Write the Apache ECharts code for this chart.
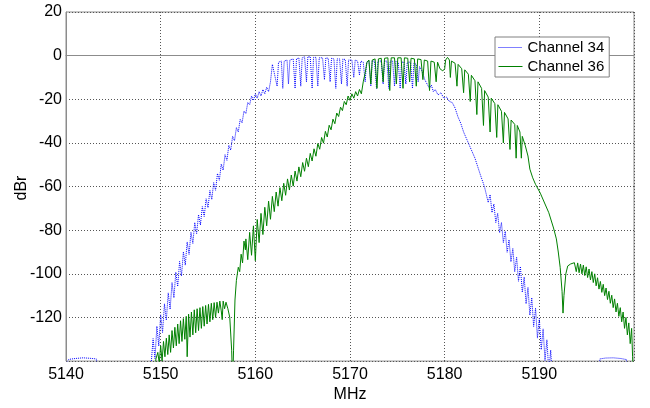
<!DOCTYPE html>
<html>
<head>
<meta charset="utf-8">
<script src="https://cdn.jsdelivr.net/npm/echarts@6/dist/echarts.min.js"></script>
<style>html,body{margin:0;padding:0;background:#fff}#c{width:650px;height:408px}</style>
</head>
<body>
<div id="c"></div>
<script>
// ---- tick labels ----
var xTicks = [5140, 5150, 5160, 5170, 5180, 5190];
var yTicks = [20, 0, -20, -40, -60, -80, -100, -120];
var seriesNames = ['Channel 34', 'Channel 36'];
var yAxisTitle = 'dBr';

// ---- Channel 34 (MHz, dBr) ----
var ch34FloorLeft = [[5140.0,-141],[5140.3,-139.2],[5141.0,-138.8],[5141.8,-138.5],[5142.5,-138.7],[5143.2,-139],[5143.7,-150],[5148.9,-150]];
var ch34Rise = [[5149.0,-141],[5149.2,-129.7],[5149.4,-138.9],[5149.6,-124],[5149.8,-133.1],[5150.0,-118.8],[5150.2,-126.9],[5150.4,-113.75],[5150.6,-121.25],[5150.8,-108.75],[5151.0,-116.25],[5151.2,-104],[5151.4,-111],[5151.6,-99.25],[5151.8,-105.75],[5152.0,-94.3],[5152.2,-101],[5152.4,-89.9],[5152.6,-96],[5152.8,-85.4],[5153.0,-91.1],[5153.2,-81],[5153.4,-86.1],[5153.6,-76.5],[5153.8,-81.6],[5154.0,-72.9],[5154.2,-77.6],[5154.4,-69.2],[5154.6,-73.7],[5154.8,-65.6],[5155.0,-69.7],[5155.2,-61.8],[5155.4,-65.9],[5155.6,-58.2],[5155.8,-61.7],[5156.0,-54],[5156.2,-57.1],[5156.4,-49.7],[5156.6,-52.5],[5156.8,-45.4],[5157.0,-48],[5157.2,-41.1],[5157.4,-43.3],[5157.6,-37],[5157.8,-39],[5158.0,-33],[5158.2,-35],[5158.4,-29.2],[5158.6,-30.8],[5158.8,-25.4],[5159.0,-26.6],[5159.2,-21.5],[5159.4,-22.5],[5159.6,-18.5]];
var ch34Shoulder = [[5159.8,-20.5],[5160.0,-17.5],[5160.2,-19.5],[5160.4,-16.5],[5160.6,-18.5],[5160.8,-15.5],[5161.0,-17.5],[5161.2,-14.5],[5161.4,-16.5],[5161.6,-12],[5161.8,-4]];
var ch34Top = [[5162.0,-3.5],[5162.3,-14],[5162.45,-3],[5162.75,-2.5],[5162.9,-15],[5163.05,-2.5],[5163.35,-2],[5163.5,-13],[5163.65,-2],[5164.0,-1.5],[5164.2,-15],[5164.35,-1.5],[5164.6,-1],[5164.8,-14],[5164.95,-1],[5165.2,-0.5],[5165.4,-12],[5165.55,-0.5],[5165.8,-0.5],[5166.0,-15],[5166.15,-0.8],[5166.4,-0.8],[5166.6,-14],[5166.75,-1],[5167.1,-1],[5167.3,-11],[5167.45,-1],[5167.7,-1.2],[5167.9,-12],[5168.05,-1.2],[5168.3,-1.5],[5168.5,-15],[5168.65,-1.5],[5168.9,-1.5],[5169.1,-13],[5169.25,-1.5],[5169.5,-1.8],[5169.7,-14],[5169.85,-2],[5170.2,-2],[5170.4,-10],[5170.55,-2],[5170.8,-2.5],[5171.0,-9],[5171.15,-2.5],[5171.4,-3],[5171.6,-12],[5171.75,-3],[5172.0,-2.5],[5172.2,-14],[5172.35,-2.5],[5172.6,-2.5],[5172.8,-15],[5172.95,-2.5],[5173.3,-2.5],[5173.5,-13],[5173.65,-2.5],[5173.9,-2.5],[5174.1,-15],[5174.25,-2.5],[5174.5,-2.5],[5174.7,-14],[5174.85,-2.5],[5175.1,-3],[5175.3,-15],[5175.45,-3],[5175.7,-3],[5175.9,-13],[5176.05,-3],[5176.4,-3],[5176.6,-15],[5176.75,-3.5],[5177.0,-4],[5177.2,-12],[5177.35,-5],[5177.6,-7]];
var ch34Fall = [[5177.9,-11],[5178.2,-13.5],[5178.4,-15],[5178.6,-13.5],[5178.8,-16.5],[5179.0,-15.5],[5179.3,-18],[5179.6,-17],[5179.9,-19.5],[5180.2,-19],[5180.5,-21],[5180.8,-21.5],[5181.1,-24],[5181.4,-28],[5181.7,-31],[5182.0,-35],[5182.3,-38],[5182.6,-41],[5182.9,-44],[5183.2,-47],[5183.5,-51],[5183.8,-55],[5184.2,-60],[5184.4,-59.4],[5184.6,-67.3],[5184.8,-63.7],[5185.0,-71.9],[5185.2,-68],[5185.4,-76.5],[5185.6,-72.3],[5185.8,-81.2],[5186.0,-76.5],[5186.2,-85.7],[5186.4,-80.5],[5186.6,-90.1],[5186.8,-84.4],[5187.0,-94.5],[5187.2,-88.4],[5187.4,-99],[5187.6,-92.4],[5187.8,-103.4],[5188.0,-96.65],[5188.2,-108.45],[5188.4,-101.45],[5188.6,-113.75],[5188.8,-106.25],[5189.0,-118.95],[5189.2,-110.95],[5189.4,-124.15],[5189.6,-115.75],[5189.8,-129.45],[5190.0,-120.45],[5190.2,-134.75],[5190.4,-125.25],[5190.6,-139.75],[5190.8,-130.25],[5191.0,-144.75],[5191.2,-135],[5191.4,-150]];
var ch34FloorRight = [[5196.2,-150],[5196.4,-139],[5197.0,-138.6],[5197.8,-138.5],[5198.6,-138.8],[5199.2,-139.3],[5199.4,-150]];

// ---- Channel 36 (MHz, dBr) ----
var ch36Hump = [[5149.3,-150],[5149.5,-139],[5149.7,-136],[5149.85,-141],[5150.0,-133],[5150.15,-140],[5150.3,-131],[5150.45,-138],[5150.6,-129.5],[5150.75,-137],[5150.9,-128],[5151.05,-136],[5151.2,-126],[5151.35,-134],[5151.5,-124.5],[5151.65,-133],[5151.8,-123],[5151.95,-132],[5152.1,-121.5],[5152.25,-131],[5152.4,-120.5],[5152.55,-130],[5152.7,-119.5],[5152.8,-138],[5152.95,-118.5],[5153.1,-129],[5153.25,-117.5],[5153.4,-128],[5153.55,-116.5],[5153.7,-127],[5153.85,-116],[5154.0,-126],[5154.15,-115.5],[5154.3,-125],[5154.45,-115],[5154.6,-124],[5154.75,-114.5],[5154.9,-123],[5155.05,-114],[5155.2,-122],[5155.35,-113.5],[5155.5,-121],[5155.65,-113.2],[5155.8,-120],[5155.95,-113],[5156.1,-118],[5156.25,-112.5],[5156.4,-117],[5156.5,-121],[5156.6,-112.5],[5156.75,-116],[5156.9,-113],[5157.1,-116],[5157.3,-120],[5157.5,-135],[5157.6,-150]];
var ch36Rise = [[5157.7,-135],[5157.85,-112],[5158.0,-103],[5158.2,-97],[5158.35,-99],[5158.5,-91],[5158.65,-95],[5158.8,-85],[5158.95,-89],[5159.0,-84],[5159.2,-93.5],[5159.4,-81],[5159.6,-91.5],[5159.8,-78],[5160.0,-94],[5160.2,-75.1],[5160.4,-85.7],[5160.6,-72.3],[5160.8,-82],[5161.0,-69.5],[5161.2,-78],[5161.4,-66.7],[5161.6,-75],[5161.8,-64.5],[5162.0,-71.5],[5162.2,-62.5],[5162.4,-69],[5162.6,-60.5],[5162.8,-66.5],[5163.0,-58.5],[5163.2,-64],[5163.4,-56.5],[5163.6,-61.6],[5163.8,-54.7],[5164.0,-59.8],[5164.2,-52.9],[5164.4,-57.5],[5164.6,-51],[5164.8,-55.5],[5165.0,-49],[5165.2,-53],[5165.4,-47],[5165.6,-50.9],[5165.8,-44.8],[5166.0,-48.3],[5166.2,-42.7],[5166.4,-46.1],[5166.6,-40.3],[5166.8,-42.9],[5167.0,-37.5],[5167.2,-40.1],[5167.4,-34.7],[5167.6,-37.3],[5167.8,-31.9],[5168.0,-34],[5168.2,-29.1],[5168.4,-31.2],[5168.6,-26.3],[5168.8,-27.9],[5169.0,-23.6],[5169.2,-25.2],[5169.4,-21],[5169.6,-22.5]];
var ch36Shoulder = [[5169.8,-18.5],[5170.0,-20.5],[5170.2,-17.5],[5170.4,-19.5],[5170.6,-16.5],[5170.8,-18.5],[5171.0,-15.5],[5171.2,-17.5],[5171.4,-12],[5171.6,-8],[5171.8,-3]];
var ch36Top = [[5172.0,-2],[5172.2,-13],[5172.35,-2],[5172.65,-1.5],[5172.85,-15],[5173.0,-1.5],[5173.3,-1.2],[5173.5,-12],[5173.65,-1.2],[5174.0,-1],[5174.2,-16],[5174.35,-1],[5174.7,-1],[5174.9,-13],[5175.05,-1],[5175.4,-1],[5175.6,-15],[5175.75,-1],[5176.1,-1.2],[5176.3,-12],[5176.45,-1.2],[5176.8,-1.5],[5177.0,-14],[5177.15,-1.5],[5177.5,-1.8],[5177.7,-11],[5177.85,-2],[5178.2,-2.5],[5178.4,-16],[5178.55,-2.5],[5178.9,-3],[5179.1,-12],[5179.25,-3],[5179.5,-6],[5179.8,-7],[5180.0,-6],[5180.1,-2],[5180.3,-0.8],[5180.5,-2]];
var ch36Comb = [[5180.6,-10],[5180.72,-2.5],[5181.1,-3.5],[5181.3,-14],[5181.42,-4],[5181.8,-6],[5182.0,-17],[5182.12,-6.5],[5182.5,-8.5],[5182.7,-21],[5182.82,-9],[5183.2,-11.5],[5183.4,-27],[5183.52,-12],[5183.9,-15],[5184.1,-32],[5184.22,-16],[5184.6,-19],[5184.8,-35],[5184.92,-19.5],[5185.3,-22],[5185.5,-37.5],[5185.62,-22.5],[5186.0,-25.5],[5186.2,-40],[5186.32,-26],[5186.7,-29],[5186.9,-43],[5187.02,-29.5],[5187.4,-31.5],[5187.55,-47],[5187.67,-32],[5187.95,-35],[5188.1,-47],[5188.2,-37],[5188.5,-41]];
var ch36Tail = [[5188.8,-46],[5189.0,-52],[5189.3,-56],[5189.6,-59],[5190.1,-63],[5190.6,-68],[5191.0,-72],[5191.5,-79],[5191.8,-84],[5192.0,-90],[5192.2,-97],[5192.4,-108],[5192.5,-118],[5192.6,-110],[5192.8,-100],[5193.0,-96.4],[5193.3,-95.5],[5193.7,-94.9],[5193.9,-99],[5194.05,-95],[5194.2,-99.5],[5194.35,-95.5],[5194.5,-100],[5194.65,-96],[5194.8,-100.8],[5194.95,-96.8],[5195.1,-101.7],[5195.25,-97.8],[5195.4,-102.8],[5195.55,-99],[5195.7,-104],[5195.85,-100],[5196.0,-105.5],[5196.15,-101.8],[5196.3,-107],[5196.45,-103.5],[5196.6,-108.5],[5196.75,-104.8],[5196.9,-110],[5197.05,-106.5],[5197.2,-111.8],[5197.35,-108],[5197.5,-113.5],[5197.65,-109.8],[5197.8,-115.5],[5197.95,-111.5],[5198.1,-117.5],[5198.25,-113.5],[5198.4,-119.5],[5198.55,-115.5],[5198.7,-122],[5198.85,-117.5],[5199.0,-125],[5199.15,-120],[5199.3,-128],[5199.45,-122.5],[5199.6,-132],[5199.75,-125],[5199.85,-138],[5199.95,-150]];

var ch34 = [].concat(ch34FloorLeft, ch34Rise, ch34Shoulder, ch34Top, ch34Fall, ch34FloorRight);
var ch36 = [].concat(ch36Hump, ch36Rise, ch36Shoulder, ch36Top, ch36Comb, ch36Tail);

var BLUE = '#0000ff', GREEN = '#008000';
var FONT = '"Liberation Sans", Arial, sans-serif';
var chart = echarts.init(document.getElementById('c'), null, {renderer: 'canvas'});
chart.setOption({
  animation: false,
  backgroundColor: '#fff',
  grid: {left: 66, right: 16, top: 12, bottom: 44, show: true, borderColor: '#8c8c8c', borderWidth: 1, backgroundColor: '#fff'},
  graphic: [{
    type: 'text', x: 22, y: 188, rotation: Math.PI / 2, silent: true,
    style: {text: yAxisTitle, fill: '#000', font: '16px "Liberation Sans", Arial, sans-serif',
            align: 'center', verticalAlign: 'middle'}
  }],
  legend: {
    data: [
      {name: seriesNames[0], lineStyle: {color: BLUE, width: 1, type: [1, 1], opacity: 1}},
      {name: seriesNames[1], lineStyle: {color: GREEN, width: 1, type: 'solid', opacity: 1}}
    ],
    orient: 'vertical', left: 495, top: 37,
    backgroundColor: '#fff', borderColor: '#808080', borderWidth: 1,
    padding: [3, 5, 3, 3], itemGap: 4, itemWidth: 24, itemHeight: 14,
    itemStyle: {color: 'rgba(0,0,0,0)', borderColor: 'rgba(0,0,0,0)', borderWidth: 0},
    textStyle: {fontFamily: FONT, fontSize: 15, color: '#000'}
  },
  xAxis: {
    type: 'value', min: 5140, max: 5200, interval: 10,
    name: 'MHz', nameLocation: 'middle', nameGap: 24,
    nameTextStyle: {fontFamily: FONT, fontSize: 16, color: '#000'},
    axisLine: {show: true, lineStyle: {color: '#8c8c8c'}},
    axisTick: {show: false},
    axisLabel: {fontFamily: FONT, fontSize: 16, color: '#000', margin: 5,
      formatter: function (v) { return xTicks.indexOf(v) >= 0 ? String(v) : ''; }},
    splitLine: {show: true, lineStyle: {color: '#555', type: [1, 2], width: 1}}
  },
  yAxis: {
    type: 'value', min: -140, max: 20, interval: 20,
    axisLine: {show: true, lineStyle: {color: '#8c8c8c'}},
    axisTick: {show: false},
    axisLabel: {fontFamily: FONT, fontSize: 16, color: '#000', margin: 4,
      formatter: function (v) { return yTicks.indexOf(v) >= 0 ? String(v) : ''; }},
    splitLine: {show: true, lineStyle: {color: '#555', type: [1, 2], width: 1}}
  },
  series: [
    {name: seriesNames[0], type: 'line', data: ch34, symbol: 'none', clip: true,
     color: BLUE, lineStyle: {color: BLUE, width: 1, type: [1, 1]}},
    {name: seriesNames[1], type: 'line', data: ch36, symbol: 'none', clip: true,
     color: GREEN, lineStyle: {color: GREEN, width: 1, type: 'solid'}}
  ]
});
</script>
</body>
</html>
